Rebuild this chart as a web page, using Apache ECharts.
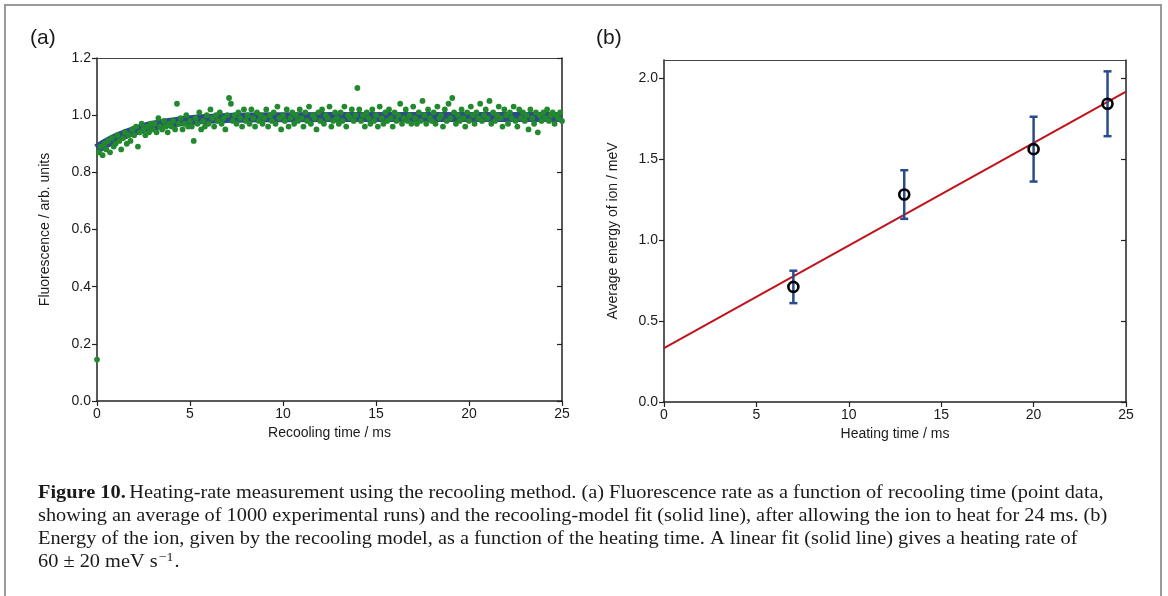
<!DOCTYPE html>
<html><head><meta charset="utf-8">
<script src="https://cdn.jsdelivr.net/npm/echarts@6/dist/echarts.min.js"></script>
<style>html,body{margin:0;padding:0;background:#fff}#c{width:1168px;height:596px}</style>
</head><body><div id="c"></div>
<script>
// (a) Fluorescence vs recooling time, samples every 0.1 ms from 0 to 25 ms
const recoolStep = 0.1;
const fluorescence = [
0.145,0.87,0.89,0.86,0.90,0.88,0.91,0.87,0.92,0.89,
0.90,0.93,0.91,0.88,0.92,0.94,0.90,0.93,0.91,0.95,
0.93,0.96,0.89,0.94,0.97,0.95,0.93,0.96,0.94,0.97,
0.95,0.97,0.94,0.99,0.96,0.95,0.98,0.96,0.94,0.97,
0.96,0.98,0.95,1.04,0.97,0.99,0.95,0.97,1.00,0.96,
0.98,0.96,0.91,0.99,0.97,1.01,0.95,0.98,0.96,1.00,
0.97,1.02,0.99,0.96,1.00,0.98,1.01,0.97,0.99,0.95,
1.00,1.06,1.04,0.98,1.00,0.97,1.01,0.99,0.96,1.02,
0.98,1.00,0.97,1.02,0.99,0.96,1.01,0.98,1.00,0.97,
0.99,1.02,0.96,1.00,0.98,1.01,0.97,1.03,0.99,0.95,
1.00,0.98,1.02,0.96,0.99,1.01,0.97,1.00,0.98,1.02,
0.99,0.96,1.01,0.98,1.03,0.97,1.00,0.99,0.95,1.01,
0.98,1.02,0.97,1.00,0.99,1.03,0.96,0.98,1.01,0.99,
0.97,1.01,0.98,1.03,0.96,1.00,0.99,1.02,0.98,1.00,
1.095,1.02,0.98,1.00,0.96,1.01,0.99,0.97,1.02,0.98,
1.00,0.96,1.03,0.99,0.97,1.01,0.98,1.02,0.99,0.96,
1.01,0.98,1.00,1.04,0.97,0.99,1.02,0.98,1.00,0.97,
1.03,0.99,0.97,1.01,0.98,1.05,1.00,0.97,1.02,0.99,
0.98,1.01,0.97,1.03,0.99,1.00,0.96,1.02,0.98,1.04,
0.99,1.06,1.01,0.97,1.00,0.98,1.02,0.99,0.96,1.01,
0.98,1.03,1.00,0.97,1.01,0.99,1.04,0.98,1.00,1.02,
0.99,1.05,0.97,1.01,0.98,1.00,1.03,0.99,0.96,1.02,
1.00,0.97,1.01,0.99,1.03,0.98,0.96,1.02,0.99,1.01,
0.98,1.00,0.95,1.02,0.99,0.97,1.01,0.94,1.00,0.98,
1.01,0.99,1.02,0.98,1.00,1.01,0.97,1.00,0.99,1.01,0.98
];
// recooling-model fit (solid line)
const fitTimes  = [0, 0.5, 1, 1.5, 2, 2.5, 3, 4, 5, 6, 7, 8, 10, 15, 20, 25];
const fitValues = [0.882,0.902,0.919,0.933,0.945,0.955,0.963,0.974,0.982,0.987,0.990,0.992,0.993,0.994,0.994,0.994];

// (b) Energy vs heating time
const heatTimes = [7, 13, 20, 24];
const energy    = [0.71, 1.28, 1.56, 1.84];
const energyLow = [0.61, 1.13, 1.36, 1.64];
const energyHigh= [0.81, 1.43, 1.76, 2.04];
const linFitX = [0, 25];
const linFitY = [0.333, 1.915];

const yTicksB = [0, 0.5, 1.0, 1.5, 2.0];

const scatterData = fluorescence.map((v, i) => [+(i * recoolStep).toFixed(2), v]);
const fitData = fitTimes.map((t, i) => [t, fitValues[i]]);
const pointsB = heatTimes.map((t, i) => [t, energy[i]]);
const errB = heatTimes.map((t, i) => [t, energyLow[i], energyHigh[i]]);
const linData = linFitX.map((x, i) => [x, linFitY[i]]);

const FONT = '"Liberation Sans", Arial, sans-serif';
const SERIF = '"Liberation Serif", "Times New Roman", serif';
const TXT = '#1a1a1a';
const AX = '#222';

function xAxisBase(gi, name, gap) {
  return {
    type: 'value', gridIndex: gi, min: 0, max: 25, interval: 5,
    name: name, nameLocation: 'middle', nameGap: gap,
    nameTextStyle: {fontFamily: FONT, fontSize: 14, color: TXT},
    axisLine: {onZero: false, lineStyle: {color: AX, width: 1.5}},
    axisTick: {length: 5, lineStyle: {color: AX, width: 1.2}},
    axisLabel: {fontFamily: FONT, fontSize: 14, color: TXT, margin: 6},
    splitLine: {show: false}
  };
}
function topAxis(gi) {
  return {type: 'value', gridIndex: gi, min: 0, max: 25, position: 'top',
    axisLine: {onZero: false, lineStyle: {color: '#444', width: 1.2}},
    axisTick: {show: false}, axisLabel: {show: false}, splitLine: {show: false}};
}

const CAP_SIZE = 19;
const SX = 1.07;
const CAP_X = 38, CAP_Y = 482, LH = 23;
// width of last caption line's main part, for placing the superscript
const mc = document.createElement('canvas').getContext('2d');
mc.font = CAP_SIZE + 'px ' + SERIF;
const line4a = '60 ± 20 meV s';
const w4 = mc.measureText(line4a).width * SX;
mc.font = '13px ' + SERIF;
const wSup = mc.measureText('−1').width * SX;

const chart = echarts.init(document.getElementById('c'), null, {renderer: 'canvas'});
chart.setOption({
  animation: false,
  backgroundColor: '#fff',
  grid: [
    {left: 97, right: 606, top: 58, bottom: 195},
    {left: 664, right: 42, top: 60, bottom: 194}
  ],
  xAxis: [
    xAxisBase(0, 'Recooling time / ms', 24),
    topAxis(0),
    xAxisBase(1, 'Heating time / ms', 24),
    topAxis(1)
  ],
  yAxis: [
    {type: 'value', gridIndex: 0, min: 0, max: 1.2, interval: 0.2,
     name: 'Fluorescence / arb. units', nameLocation: 'middle', nameGap: 45,
     nameTextStyle: {fontFamily: FONT, fontSize: 14, color: TXT},
     axisLine: {onZero: false, lineStyle: {color: AX, width: 1.5}},
     axisTick: {length: 5, lineStyle: {color: AX, width: 1.2}},
     axisLabel: {fontFamily: FONT, fontSize: 14, color: TXT, margin: 6, formatter: v => v.toFixed(1)},
     splitLine: {show: false}},
    {type: 'value', gridIndex: 0, min: 0, max: 1.2, interval: 0.2, position: 'right',
     axisLine: {onZero: false, lineStyle: {color: AX, width: 1.5}},
     axisTick: {inside: true, length: 5, lineStyle: {color: AX, width: 1.2}},
     axisLabel: {show: false}, splitLine: {show: false}},
    {type: 'value', gridIndex: 1, min: 0, max: 2.11,
     name: 'Average energy of ion / meV', nameLocation: 'middle', nameGap: 44,
     nameTextStyle: {fontFamily: FONT, fontSize: 14, color: TXT},
     axisLine: {onZero: false, lineStyle: {color: AX, width: 1.5}},
     axisTick: {length: 5, customValues: yTicksB, lineStyle: {color: AX, width: 1.2}},
     axisLabel: {fontFamily: FONT, fontSize: 14, color: TXT, margin: 6, customValues: yTicksB, formatter: v => v.toFixed(1)},
     splitLine: {show: false}},
    {type: 'value', gridIndex: 1, min: 0, max: 2.11, position: 'right',
     axisLine: {onZero: false, lineStyle: {color: AX, width: 1.5}},
     axisTick: {inside: true, length: 5, customValues: yTicksB, lineStyle: {color: AX, width: 1.2}},
     axisLabel: {show: false}, splitLine: {show: false}}
  ],
  series: [
    {type: 'line', xAxisIndex: 0, yAxisIndex: 0, data: fitData, smooth: true, showSymbol: false,
     lineStyle: {color: '#2d4c88', width: 10}, z: 2},
    {type: 'scatter', xAxisIndex: 0, yAxisIndex: 0, data: scatterData, symbolSize: 5.8,
     itemStyle: {color: '#23892f', opacity: 1}, z: 3},
    {type: 'line', xAxisIndex: 2, yAxisIndex: 2, data: linData, showSymbol: false,
     lineStyle: {color: '#c0141c', width: 2}, z: 2},
    {type: 'custom', xAxisIndex: 2, yAxisIndex: 2, data: errB, z: 3,
     renderItem: function (params, api) {
       const x = api.value(0);
       const lo = api.coord([x, api.value(1)]);
       const hi = api.coord([x, api.value(2)]);
       const hw = 4;
       const st = {stroke: '#2b4c8c', lineWidth: 2.5};
       return {type: 'group', children: [
         {type: 'line', shape: {x1: lo[0], y1: lo[1], x2: hi[0], y2: hi[1]}, style: st},
         {type: 'line', shape: {x1: lo[0]-hw, y1: lo[1], x2: lo[0]+hw, y2: lo[1]}, style: st},
         {type: 'line', shape: {x1: hi[0]-hw, y1: hi[1], x2: hi[0]+hw, y2: hi[1]}, style: st}
       ]};
     }},
    {type: 'scatter', xAxisIndex: 2, yAxisIndex: 2, data: pointsB, symbol: 'circle', symbolSize: 10,
     itemStyle: {color: 'rgba(255,255,255,0)', borderColor: '#000', borderWidth: 2.6, opacity: 1}, z: 4}
  ],
  graphic: [
    {type: 'rect', shape: {x: 5, y: 5, width: 1156, height: 600}, style: {fill: 'none', stroke: '#9a9a9a', lineWidth: 2}, silent: true},
    {type: 'text', left: 30, top: 28, style: {text: '(a)', font: '21px ' + FONT, fill: TXT}},
    {type: 'text', left: 596, top: 28, style: {text: '(b)', font: '21px ' + FONT, fill: TXT}},
    {type: 'text', x: CAP_X, y: CAP_Y, scaleX: SX, style: {
      text: '{b|Figure 10.} {n|Heating-rate measurement using the recooling method. (a) Fluorescence rate as a function of recooling time (point data,}\n' +
            '{n|showing an average of 1000 experimental runs) and the recooling-model fit (solid line), after allowing the ion to heat for 24 ms. (b)}\n' +
            '{n|Energy of the ion, given by the recooling model, as a function of the heating time. A linear fit (solid line) gives a heating rate of}\n' +
            '{n|' + line4a + '}',
      fill: TXT, lineHeight: LH,
      rich: {
        b: {fontFamily: SERIF, fontSize: CAP_SIZE, fontWeight: 'bold', lineHeight: LH, fill: TXT},
        n: {fontFamily: SERIF, fontSize: CAP_SIZE, lineHeight: LH, fill: TXT}
      }
    }},
    {type: 'text', x: CAP_X + w4 + 1, y: CAP_Y + 3 * LH, scaleX: SX,
     style: {text: '−1', font: '13px ' + SERIF, fill: TXT}},
    {type: 'text', x: CAP_X + w4 + wSup + 2, y: CAP_Y + 3 * LH + 2, scaleX: SX,
     style: {text: '.', font: CAP_SIZE + 'px ' + SERIF, fill: TXT}}
  ]
});
</script></body></html>
